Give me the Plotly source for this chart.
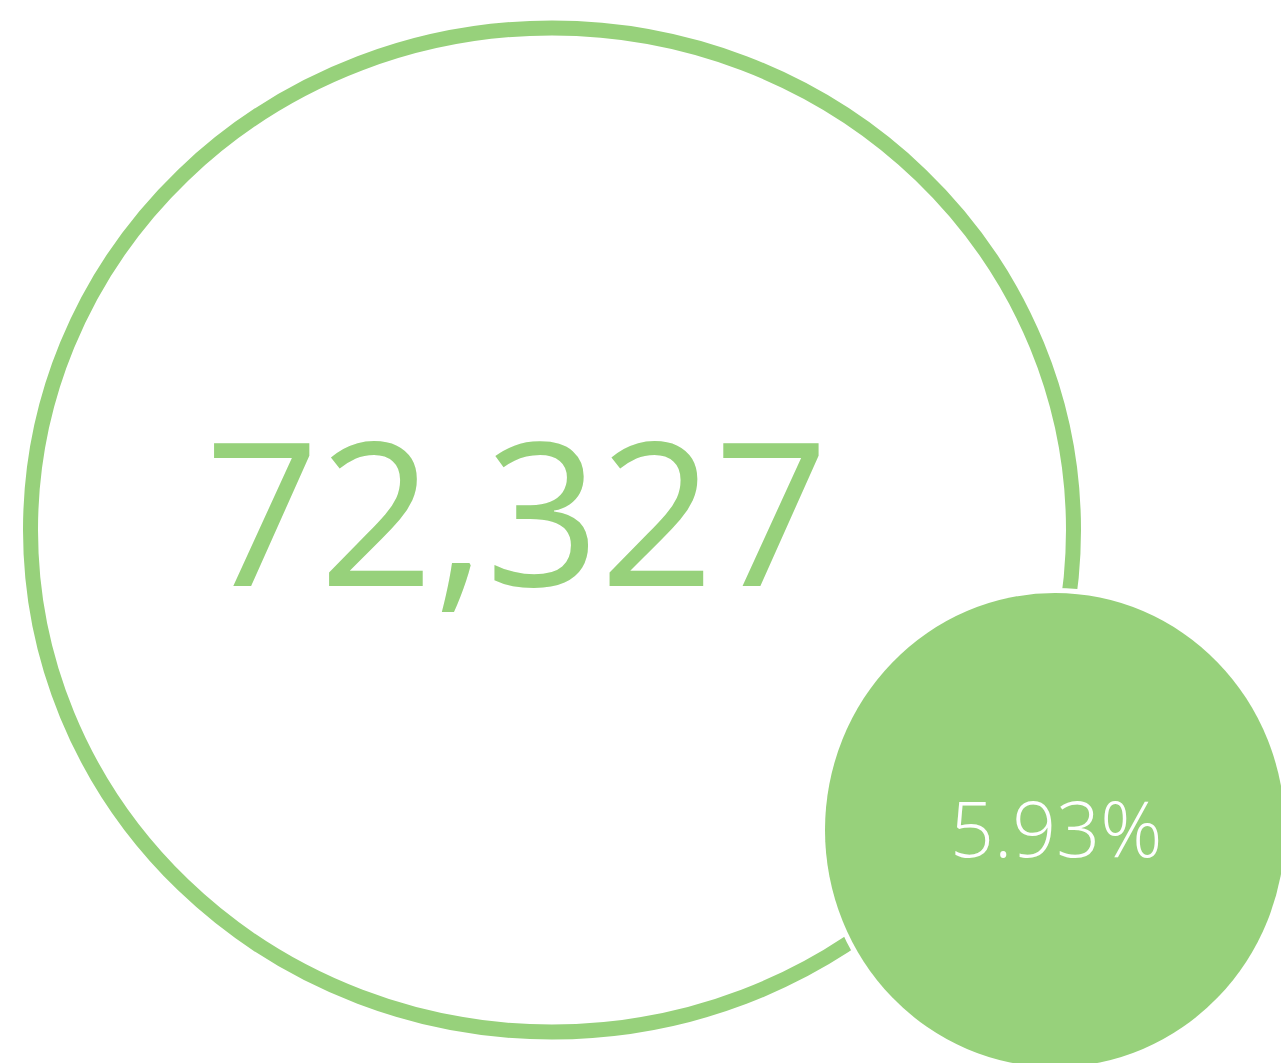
import plotly.graph_objects as go

# KPI data
total_value = [72327]
share_pct = [5.93]
labels = ["{:,}".format(total_value[0]), "{:.2f}%".format(share_pct[0])]

GREEN = "#97d17b"
W, H = 1281, 1063

fig = go.Figure()
fig.add_trace(go.Scatter(x=[0, W], y=[0, H], mode="markers",
                         marker=dict(opacity=0), hoverinfo="skip", showlegend=False))

# big ring
fig.add_shape(type="circle", xref="x", yref="y",
              x0=552 - 521.5, x1=552 + 521.5, y0=530 - 502, y1=530 + 502,
              line=dict(color=GREEN, width=15), fillcolor="rgba(0,0,0,0)", layer="below")
# small filled bubble with white gap
fig.add_shape(type="circle", xref="x", yref="y",
              x0=1055 - 230, x1=1055 + 230, y0=830 - 237, y1=830 + 237,
              line=dict(color="white", width=10), fillcolor=GREEN, layer="above")
fig.add_shape(type="circle", xref="x", yref="y",
              x0=1055 - 230, x1=1055 + 230, y0=830 - 237, y1=830 + 237,
              line=dict(color=GREEN, width=0), fillcolor=GREEN, layer="above")

fig.add_annotation(x=517, y=508, xref="x", yref="y", text=labels[0], showarrow=False,
                   xanchor="center", yanchor="middle",
                   font=dict(family="Open Sans", size=200, color=GREEN))
fig.add_annotation(x=1056, y=827, xref="x", yref="y", text=labels[1], showarrow=False,
                   xanchor="center", yanchor="middle",
                   font=dict(family="Open Sans", size=77, color="white", weight=300))

fig.update_xaxes(range=[0, W], visible=False, fixedrange=True)
fig.update_yaxes(range=[H, 0], visible=False, fixedrange=True)
fig.update_layout(width=W, height=H, margin=dict(l=0, r=0, t=0, b=0),
                  plot_bgcolor="white", paper_bgcolor="white", showlegend=False)

fig.write_html("out.html", config={"displayModeBar": False},
               post_script="document.body.style.margin='0';document.body.style.overflow='hidden';")
